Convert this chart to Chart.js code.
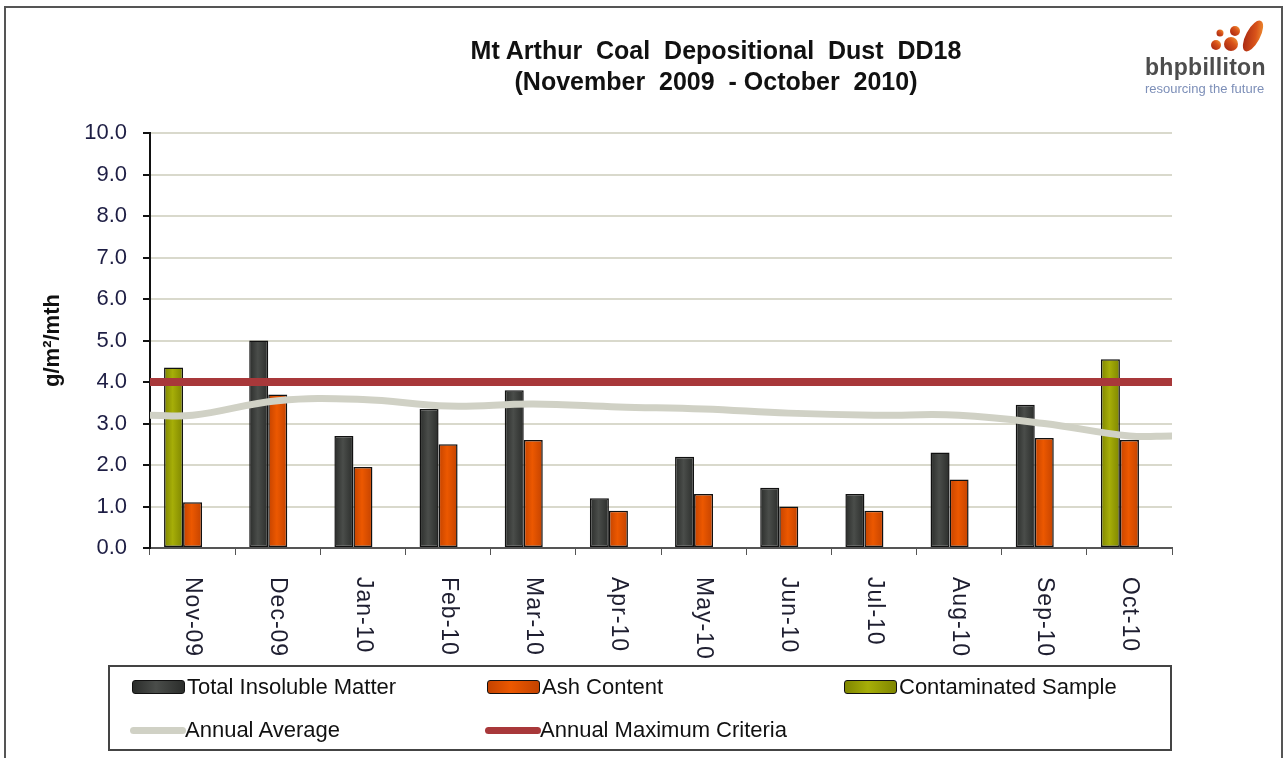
<!DOCTYPE html>
<html>
<head>
<meta charset="utf-8">
<script src="https://cdn.jsdelivr.net/npm/chart.js@4.4.1/dist/chart.umd.min.js"></script>
<style>
body{margin:0;background:#fff;font-family:"Liberation Sans",Arial,sans-serif;}
#wrap{position:relative;width:1286px;height:758px;overflow:hidden;background:#fff;}
#frame{position:absolute;left:4px;top:6px;width:1279px;height:800px;border:2px solid #555;box-sizing:border-box;}
canvas{position:absolute;left:0;top:0;}
.title{position:absolute;left:0;width:1432px;text-align:center;font-weight:bold;font-size:25px;line-height:30px;white-space:pre;color:#111;}
#legend{position:absolute;left:108px;top:665px;width:1064px;height:86px;border:2px solid #444;box-sizing:border-box;}
.item{position:absolute;font-size:22px;line-height:24px;color:#111;white-space:nowrap;}
.sw{position:absolute;}
.bar{width:53px;height:14px;border:1.5px solid #111;border-radius:3px;box-sizing:border-box;}
.ln{width:56px;height:7px;border-radius:4px;}
#logo{position:absolute;left:1145px;top:20px;}
#brand{position:absolute;left:1145px;top:54px;font-weight:bold;font-size:23px;color:#4d4d4d;letter-spacing:0.3px;}
#tag{position:absolute;left:1145px;top:81px;font-size:13px;color:#7d8fb8;}
</style>
</head>
<body>
<div id="wrap">
  <canvas id="chart" width="1286" height="758"></canvas>
  <div id="frame"></div>
  <div class="title" style="top:35px">Mt Arthur  Coal  Depositional  Dust  DD18</div>
  <div class="title" style="top:66px">(November  2009  - October  2010)</div>
  <svg id="logo" width="130" height="36" viewBox="1145 20 130 36">
    <defs>
      <linearGradient id="og" x1="0" y1="1" x2="1" y2="0">
        <stop offset="0" stop-color="#9c1e10"/>
        <stop offset="0.6" stop-color="#d9531a"/>
        <stop offset="1" stop-color="#f4a33a"/>
      </linearGradient>
    </defs>
    <circle cx="1220" cy="33" r="3.5" fill="url(#og)"/>
    <circle cx="1216" cy="45" r="5" fill="url(#og)"/>
    <circle cx="1235" cy="31" r="5" fill="url(#og)"/>
    <circle cx="1231" cy="44" r="7" fill="url(#og)"/>
    <ellipse cx="1253" cy="36" rx="7" ry="17" transform="rotate(28 1253 36)" fill="url(#og)"/>
  </svg>
  <div id="brand">bhpbilliton</div>
  <div id="tag">resourcing the future</div>
  <div id="legend"></div>
</div>
<script>
const months = ['Nov-09','Dec-09','Jan-10','Feb-10','Mar-10','Apr-10','May-10','Jun-10','Jul-10','Aug-10','Sep-10','Oct-10'];
const totalInsoluble = [null, 5.0, 2.7, 3.35, 3.8, 1.2, 2.2, 1.45, 1.3, 2.3, 3.45, null];
const ashContent = [1.1, 3.7, 1.95, 2.5, 2.6, 0.9, 1.3, 1.0, 0.9, 1.65, 2.65, 2.6];
const contaminated = [4.35, null, null, null, null, null, null, null, null, null, null, 4.55];
const annualAverage = [3.2, 3.55, 3.58, 3.42, 3.47, 3.4, 3.35, 3.25, 3.2, 3.2, 3.0, 2.7];
const maxCriteria = [4.0, 4.0, 4.0, 4.0, 4.0, 4.0, 4.0, 4.0, 4.0, 4.0, 4.0, 4.0];

const FONT = '"Liberation Sans", Arial, sans-serif';
// [edge, centre] shades for the Excel-style bar shading
const colors = {
  tim:['#2b2d2b','#4a4d4a'], ash:['#c44300','#ec5800'], cont:['#7f8600','#a6ae08'],
  avg:'#d0d1c5', max:'#a8383a'
};

// line series run edge to edge of the plot (category index -0.5 .. n-0.5)
const edge = vals => [{x:-0.5, y:vals[0]}, ...vals.map((v,i)=>({x:i, y:v})), {x:vals.length-0.5, y:vals[vals.length-1]}];

const monthLabels = {
  id:'monthLabels',
  afterDraw(chart){
    const {ctx, scales:{x}} = chart;
    ctx.save();
    ctx.font = '23px ' + FONT;
    ctx.fillStyle = '#1e1e30';
    ctx.textAlign = 'left';
    ctx.textBaseline = 'middle';
    if ('letterSpacing' in ctx) ctx.letterSpacing = '1px';
    months.forEach((m,i)=>{
      ctx.save();
      ctx.translate(x.getPixelForValue(i), x.top + 29);
      ctx.rotate(Math.PI/2);
      ctx.fillText(m, 0, 0);
      ctx.restore();
    });
    ctx.restore();
  }
};

// horizontal shading on every bar, dark edges and a lighter middle
const barShade = {
  id:'barShade',
  beforeDatasetDraw(chart, args){
    const meta = args.meta, shade = chart.data.datasets[args.index].shade;
    if (meta.type !== 'bar' || !shade) return;
    const ctx = chart.ctx;
    meta.data.forEach(el=>{
      if (!el.width) return;
      const g = ctx.createLinearGradient(el.x - el.width/2, 0, el.x + el.width/2, 0);
      g.addColorStop(0, shade[0]); g.addColorStop(0.45, shade[1]); g.addColorStop(1, shade[0]);
      el.options = Object.assign({}, el.options, {backgroundColor:g});
    });
  }
};

const chart = new Chart(document.getElementById('chart'), {
  type:'bar',
  data:{
    labels: months,
    datasets:[
      {type:'line', label:'Annual Average', data:edge(annualAverage), parsing:false, borderColor:colors.avg, borderWidth:7, pointRadius:0, tension:0.4, order:0},
      {type:'line', label:'Annual Maximum Criteria', data:edge(maxCriteria), parsing:false, borderColor:colors.max, borderWidth:8, pointRadius:0, order:0},
      {label:'Total Insoluble Matter', data:totalInsoluble, backgroundColor:colors.tim[1], shade:colors.tim, stack:'a', order:1},
      {label:'Ash Content', data:ashContent, backgroundColor:colors.ash[1], shade:colors.ash, stack:'b', order:1},
      {label:'Contaminated Sample', data:contaminated, backgroundColor:colors.cont[1], shade:colors.cont, stack:'a', order:1},
      {label:'', data:months.map(()=>null), stack:'c', order:1}
    ]
  },
  options:{
    responsive:false,
    animation:false,
    layout:{padding:{top:133, right:114, bottom:200, left:0}},
    datasets:{bar:{borderColor:'#111', borderWidth:1.5, borderSkipped:false, barPercentage:1, categoryPercentage:0.67}},
    plugins:{legend:{display:false}, tooltip:{enabled:false}},
    scales:{
      x:{
        type:'category', offset:true,
        grid:{offset:true, drawOnChartArea:false, drawTicks:true, tickLength:7, tickColor:'#555'},
        border:{color:'#555', width:2},
        ticks:{display:false},
        afterFit: s => { s.height = 10; }
      },
      y:{
        min:0, max:10,
        ticks:{stepSize:1, callback:v=>v.toFixed(1), font:{size:22, family:FONT}, color:'#1e1e44', padding:16},
        grid:{color:'#d9d9cc', lineWidth:2, tickColor:'#111', tickLength:7},
        border:{color:'#111', width:2},
        title:{display:true, text:'g/m²/mth', font:{size:22, weight:'bold', family:FONT}, color:'#111', padding:{top:40, bottom:0}},
        afterFit: s => { s.width = 150; }
      }
    }
  },
  plugins:[monthLabels, barShade]
});

// legend box, three columns by two rows as in the workbook
const legendItems = [
  {label:chart.data.datasets[2].label, color:colors.tim, kind:'bar', x:132, y:687},
  {label:chart.data.datasets[3].label, color:colors.ash, kind:'bar', x:487, y:687},
  {label:chart.data.datasets[4].label, color:colors.cont, kind:'bar', x:844, y:687},
  {label:chart.data.datasets[0].label, color:colors.avg, kind:'ln', x:130, y:730},
  {label:chart.data.datasets[1].label, color:colors.max, kind:'ln', x:485, y:730}
];
const wrap = document.getElementById('wrap');
legendItems.forEach(it=>{
  const sw = document.createElement('div');
  sw.className = 'sw ' + it.kind;
  const h = it.kind === 'bar' ? 14 : 7;
  sw.style.left = it.x + 'px';
  sw.style.top = (it.y - h/2) + 'px';
  sw.style.background = it.kind === 'bar'
    ? `linear-gradient(to right, ${it.color[0]}, ${it.color[1]} 45%, ${it.color[0]})`
    : it.color;
  wrap.appendChild(sw);
  const t = document.createElement('div');
  t.className = 'item';
  t.textContent = it.label;
  t.style.left = (it.x + 55) + 'px';
  t.style.top = (it.y - 12) + 'px';
  wrap.appendChild(t);
});
</script>
</body>
</html>
